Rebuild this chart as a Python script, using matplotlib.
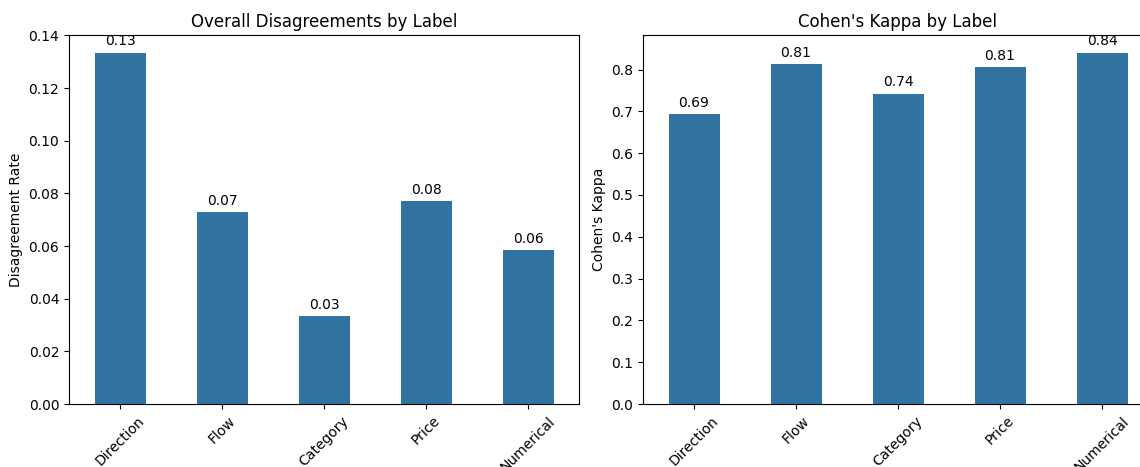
# Wykresy słupkowe: niezgodności i kappa Cohena dla etykiet
import numpy as np
import matplotlib.pyplot as plt

labels = ["Direction", "Flow", "Category", "Price", "Numerical"]
disagreement = [0.1335, 0.0728, 0.0334, 0.0772, 0.0584]
kappa = [0.6925, 0.814, 0.7427, 0.805, 0.8406]

bar_color = "#3274a1"

fig = plt.figure(figsize=(11.4, 4.67), dpi=100)
W, H = 1140, 467
# prawy wykres wychodzi poza krawędź obrazka, tak jak w oryginale
ax1 = fig.add_axes([69 / W, 1 - 404 / H, 510 / W, 369 / H])
ax2 = fig.add_axes([643 / W, 1 - 404 / H, 510 / W, 369 / H])

x = np.arange(len(labels))


def rysuj(ax, values, title, ylabel):
    bars = ax.bar(x, values, width=0.5, color=bar_color)
    ax.set_title(title)
    ax.set_ylabel(ylabel)
    ax.set_xticks(x)
    ax.set_xticklabels(labels, rotation=45)
    ax.set_xlim(-0.5, len(labels) - 0.5)
    for b, v in zip(bars, values):
        ax.annotate(f"{v:.2f}", (b.get_x() + b.get_width() / 2, v),
                    xytext=(0, 3), textcoords="offset points",
                    ha="center", va="bottom")


rysuj(ax1, disagreement, "Overall Disagreements by Label", "Disagreement Rate")
rysuj(ax2, kappa, "Cohen's Kappa by Label", "Cohen's Kappa")

plt.savefig("out.png")
